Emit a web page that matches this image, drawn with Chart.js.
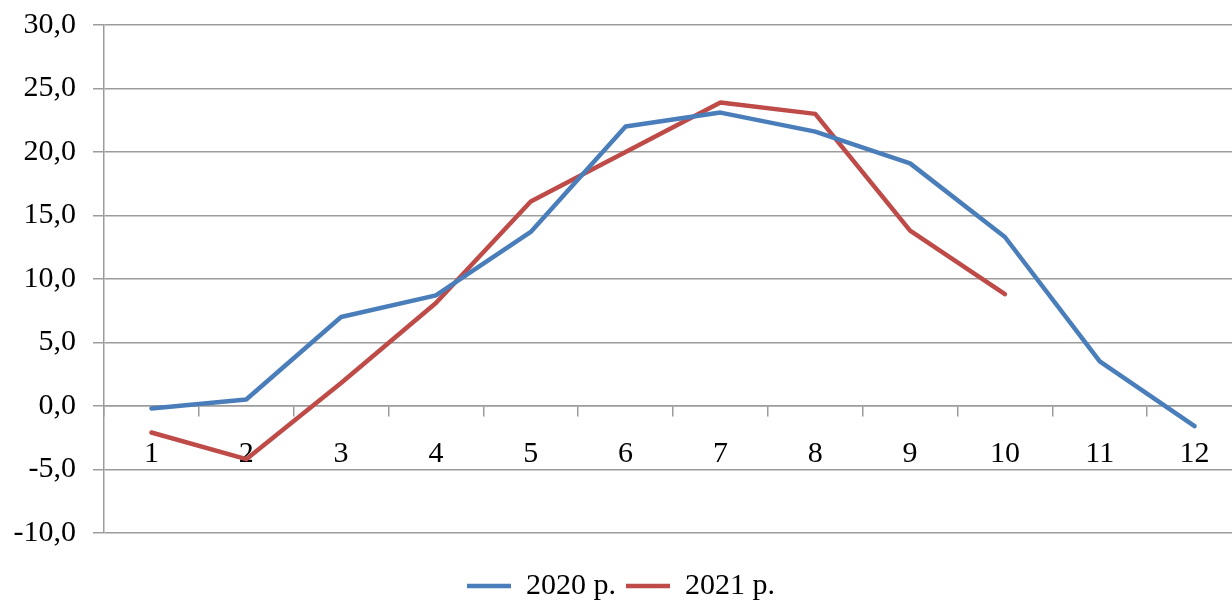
<!DOCTYPE html>
<html>
<head>
<meta charset="utf-8">
<script src="https://cdn.jsdelivr.net/npm/chart.js@4/dist/chart.umd.min.js"></script>
<style>
  html, body { margin: 0; padding: 0; background: #ffffff; overflow: hidden; }
  #wrap { width: 1262px; height: 601px; }
</style>
</head>
<body>
<div id="wrap"><canvas id="chart" width="1262" height="601"></canvas></div>
<script>
// Month numbers along the category axis
const months = ['1', '2', '3', '4', '5', '6', '7', '8', '9', '10', '11', '12'];
// Monthly values, 2020
const values2020 = [-0.2, 0.5, 7.0, 8.7, 13.7, 22.0, 23.1, 21.6, 19.1, 13.3, 3.5, -1.6];
// Monthly values, 2021 (data up to October)
const values2021 = [-2.1, -4.2, 1.8, 8.1, 16.1, 20.0, 23.9, 23.0, 13.8, 8.8, null, null];
// Value axis range and step
const yMin = -10, yMax = 30, yStep = 5;
const seriesNames = ['2020 р.', '2021 р.'];

const FONT = '"Liberation Serif", "Times New Roman", serif';
const GRID = '#9c9c9c';
const FONT_SIZE = 30;

Chart.defaults.font.family = FONT;
Chart.defaults.color = '#000000';

function lineSeries(label, data, color) {
  return {
    label: label,
    data: data,
    borderColor: color,
    backgroundColor: color,
    borderWidth: 4.5,
    pointRadius: 0,
    pointStyle: 'line',
    tension: 0,
    borderCapStyle: 'round',
    borderJoinStyle: 'round',
    spanGaps: false
  };
}

new Chart(document.getElementById('chart'), {
  type: 'line',
  data: {
    labels: months,
    datasets: [
      lineSeries(seriesNames[0], values2020, '#4a7ebb'),
      lineSeries(seriesNames[1], values2021, '#be4b48')
    ]
  },
  options: {
    responsive: false,
    animation: false,
    devicePixelRatio: 1,
    layout: { padding: { top: 25, left: 0, right: 20, bottom: -10 } },
    plugins: {
      tooltip: { enabled: false },
      legend: {
        position: 'bottom',
        title: { display: true, text: '', font: { size: 1 }, padding: { top: 27, bottom: 0 } },
        labels: {
          usePointStyle: true,
          pointStyleWidth: 44,
          boxHeight: 4,
          padding: 10,
          color: '#000000',
          font: { family: FONT, size: FONT_SIZE }
        }
      }
    },
    scales: {
      x: {
        type: 'category',
        position: { y: 0 },
        offset: true,
        grid: {
          display: true,
          offset: true,
          drawOnChartArea: false,
          drawTicks: true,
          tickLength: 10,
          color: GRID,
          lineWidth: 1.5
        },
        border: { display: true, color: GRID, width: 1.5 },
        ticks: {
          padding: 20,
          maxRotation: 0,
          autoSkip: false,
          color: '#000000',
          font: { family: FONT, size: FONT_SIZE }
        }
      },
      y: {
        position: 'left',
        min: yMin,
        max: yMax,
        afterFit(scale) { scale.width = 104; },
        grid: {
          color: GRID,
          lineWidth: 1.5,
          drawTicks: true,
          tickLength: 11
        },
        border: { display: true, color: GRID, width: 1.5 },
        ticks: {
          stepSize: yStep,
          padding: 17,
          color: '#000000',
          font: { family: FONT, size: FONT_SIZE, lineHeight: 0.5 },
          callback: (v) => v.toFixed(1).replace('.', ',')
        }
      }
    }
  }
});
</script>
</body>
</html>
